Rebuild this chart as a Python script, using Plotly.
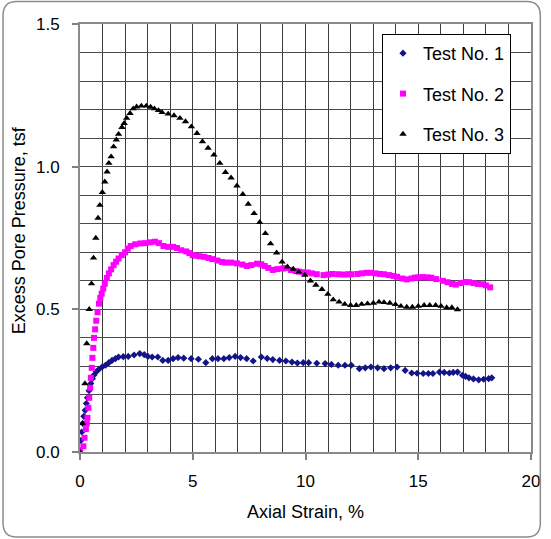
import plotly.graph_objects as go

# Test No. 1 readings (axial strain %, excess pore pressure tsf)
strain_1 = [0.0, 0.04, 0.08, 0.12, 0.17, 0.23, 0.28, 0.33, 0.40, 0.48, 0.55, 0.62, 0.72, 0.84,
            0.98, 1.13, 1.28, 1.42, 1.57, 1.71, 1.92, 2.14, 2.4, 2.65, 2.85, 3.01, 3.2, 3.45,
            3.67, 3.91, 4.13, 4.35, 4.6, 4.93, 5.25, 5.58, 5.87, 6.12, 6.38, 6.62, 6.88, 7.12,
            7.39, 7.68, 8.04, 8.3, 8.55, 8.85, 9.13, 9.4, 9.64, 9.9, 10.14, 10.5, 10.87, 11.15,
            11.45, 11.75, 12.03, 12.39, 12.65, 12.9, 13.2, 13.48, 13.78, 14.06, 14.42, 14.71,
            14.95, 15.22, 15.45, 15.65, 15.94, 16.15, 16.38, 16.55, 16.74, 16.96, 17.1, 17.25,
            17.45, 17.68, 17.9, 18.12, 18.26]
pressure_1 = [0.005, 0.04, 0.07, 0.10, 0.125, 0.146, 0.17, 0.19, 0.215, 0.24, 0.257, 0.27, 0.281,
              0.29, 0.298, 0.304, 0.313, 0.321, 0.327, 0.333, 0.334, 0.335, 0.34, 0.345, 0.341,
              0.335, 0.333, 0.333, 0.321, 0.321, 0.327, 0.331, 0.329, 0.327, 0.325, 0.313, 0.327,
              0.327, 0.327, 0.331, 0.335, 0.331, 0.327, 0.319, 0.333, 0.328, 0.324, 0.321, 0.319,
              0.315, 0.312, 0.313, 0.313, 0.311, 0.31, 0.307, 0.304, 0.304, 0.304, 0.292, 0.295,
              0.298, 0.295, 0.292, 0.295, 0.298, 0.286, 0.277, 0.276, 0.275, 0.275, 0.275, 0.28,
              0.279, 0.277, 0.279, 0.28, 0.269, 0.265, 0.26, 0.256, 0.253, 0.255, 0.257, 0.26]

# Test No. 2 readings
strain_2 = [0.0, 0.15, 0.2, 0.26, 0.30, 0.33, 0.37, 0.41, 0.45, 0.48, 0.52, 0.55, 0.59, 0.62,
            0.67, 0.72, 0.78, 0.84, 0.90, 0.96, 1.03, 1.10, 1.19, 1.28, 1.38, 1.49, 1.60, 1.71,
            1.85, 2.0, 2.12, 2.25, 2.45, 2.68, 2.9, 3.1, 3.33, 3.5, 3.70, 3.91, 4.13, 4.3, 4.49,
            4.71, 4.85, 5.0, 5.14, 5.3, 5.51, 5.7, 5.87, 6.1, 6.30, 6.45, 6.7, 6.96, 7.2, 7.4,
            7.6, 7.85, 8.04, 8.19, 8.35, 8.55, 8.75, 8.99, 9.13, 9.35, 9.57, 9.71, 9.9, 10.1,
            10.29, 10.5, 10.8, 11.0, 11.2, 11.45, 11.7, 11.9, 12.03, 12.3, 12.5, 12.7, 12.9,
            13.1, 13.3, 13.48, 13.7, 13.9, 14.06, 14.3, 14.49, 14.7, 14.85, 15.0, 15.2, 15.4,
            15.58, 15.8, 16.09, 16.3, 16.5, 16.67, 16.9, 17.1, 17.25, 17.45, 17.65, 17.83, 18.0,
            18.19]
pressure_2 = [0.005, 0.02, 0.05, 0.08, 0.10, 0.12, 0.155, 0.19, 0.225, 0.26, 0.295, 0.33, 0.365,
              0.40, 0.43, 0.46, 0.49, 0.52, 0.54, 0.555, 0.573, 0.59, 0.61, 0.626, 0.64, 0.655,
              0.667, 0.678, 0.69, 0.70, 0.713, 0.722, 0.728, 0.731, 0.732, 0.735, 0.737, 0.732,
              0.722, 0.719, 0.719, 0.715, 0.707, 0.703, 0.697, 0.69, 0.688, 0.686, 0.684, 0.68,
              0.676, 0.671, 0.666, 0.664, 0.664, 0.661, 0.657, 0.652, 0.655, 0.66, 0.658, 0.652,
              0.645, 0.638, 0.641, 0.643, 0.645, 0.638, 0.634, 0.632, 0.63, 0.629, 0.626, 0.623,
              0.62, 0.622, 0.624, 0.623, 0.622, 0.623, 0.623, 0.624, 0.626, 0.628, 0.628, 0.626,
              0.624, 0.623, 0.62, 0.617, 0.614, 0.608, 0.605, 0.608, 0.611, 0.612, 0.613, 0.612,
              0.611, 0.606, 0.600, 0.595, 0.589, 0.587, 0.592, 0.596, 0.595, 0.592, 0.589, 0.588,
              0.584, 0.577]

# Test No. 3 readings
strain_3 = [0.0, 0.12, 0.22, 0.30, 0.41, 0.51, 0.60, 0.70, 0.80, 0.88, 0.99, 1.10, 1.20, 1.28,
            1.38, 1.49, 1.61, 1.71, 1.86, 1.96, 2.07, 2.22, 2.36, 2.51, 2.72, 2.94, 3.13, 3.30,
            3.48, 3.64, 3.91, 4.17, 4.43, 4.68, 4.94, 5.19, 5.43, 5.68, 5.94, 6.20, 6.45, 6.70,
            6.96, 7.22, 7.46, 7.72, 7.97, 8.22, 8.45, 8.72, 8.96, 9.20, 9.46, 9.71, 9.97, 10.22,
            10.46, 10.73, 10.99, 11.23, 11.49, 11.74, 12.0, 12.25, 12.49, 12.75, 13.01, 13.26,
            13.48, 13.74, 13.99, 14.23, 14.49, 14.74, 15.0, 15.26, 15.51, 15.77, 16.01, 16.26,
            16.49, 16.74]
pressure_3 = [0.0, 0.10, 0.24, 0.38, 0.50, 0.59, 0.68, 0.75, 0.82, 0.865, 0.91, 0.947, 0.982,
              1.012, 1.035, 1.07, 1.094, 1.114, 1.138, 1.152, 1.17, 1.187, 1.203, 1.21, 1.213,
              1.213, 1.209, 1.203, 1.197, 1.19, 1.185, 1.179, 1.17, 1.158, 1.14, 1.117, 1.088,
              1.065, 1.041, 1.012, 0.98, 0.961, 0.933, 0.903, 0.869, 0.836, 0.805, 0.766, 0.73,
              0.698, 0.666, 0.649, 0.641, 0.631, 0.62, 0.60, 0.585, 0.57, 0.553, 0.534, 0.526,
              0.518, 0.514, 0.514, 0.518, 0.52, 0.522, 0.526, 0.524, 0.522, 0.517, 0.511, 0.508,
              0.508, 0.511, 0.514, 0.514, 0.514, 0.511, 0.506, 0.506, 0.499]

series_names = ["Test No. 1", "Test No. 2", "Test No. 3"]
x_ticks = [0, 5, 10, 15, 20]
y_ticks = [0.0, 0.5, 1.0, 1.5]

W, H = 551, 539
ML, MR, MT, MB = 80, 11, 24, 87
PW, PH = W - ML - MR, H - MT - MB

FONT = "Liberation Sans, Arial, sans-serif"

fig = go.Figure()
styles = [
    dict(symbol="diamond", color="#14148a", size=5.5),
    dict(symbol="square", color="#ff00ff", size=6),
    dict(symbol="triangle-up", color="#000000", size=6.5),
]
for name, xs, ys, st in zip(series_names, [strain_1, strain_2, strain_3],
                            [pressure_1, pressure_2, pressure_3], styles):
    fig.add_trace(go.Scatter(
        x=xs, y=ys, mode="markers", name=name, legendgroup=name,
        marker=dict(symbol=st["symbol"], color=st["color"], size=st["size"],
                    line=dict(width=0)),
    ))


def px_to_paper(px, py):
    return (px - ML) / PW, (H - MB - py) / PH


# rounded frame around the whole figure
x0, y0, x1, y1, r = 1.5, 1.5, 549.5, 537.0, 14
pts = [
    ("M", (x0 + r, y0)), ("L", (x1 - r, y0)), ("Q", (x1, y0), (x1, y0 + r)),
    ("L", (x1, y1 - r)), ("Q", (x1, y1), (x1 - r, y1)), ("L", (x0 + r, y1)),
    ("Q", (x0, y1), (x0, y1 - r)), ("L", (x0, y0 + r)), ("Q", (x0, y0), (x0 + r, y0)),
]
path = ""
for cmd, *coords in pts:
    path += cmd + " " + " ".join("%.5f,%.5f" % px_to_paper(*c) for c in coords) + " "
path += "Z"
fig.add_shape(type="path", path=path, xref="paper", yref="paper",
              line=dict(color="#8c8c8c", width=1.5), layer="above")

tx, ty = px_to_paper(310, 512)
fig.add_annotation(text="Axial Strain, %", x=tx, y=ty, xref="paper", yref="paper",
                   showarrow=False, xanchor="center", yanchor="middle",
                   font=dict(family=FONT, size=18, color="#000"))
tx, ty = px_to_paper(18, 230)
fig.add_annotation(text="Excess Pore Pressure, tsf", x=tx, y=ty, xref="paper", yref="paper",
                   showarrow=False, xanchor="center", yanchor="middle", textangle=-90,
                   font=dict(family=FONT, size=18, color="#000"))

lx, ly = px_to_paper(388, 34)
fig.update_layout(
    width=W, height=H, autosize=False,
    margin=dict(l=ML, r=MR, t=MT, b=MB),
    paper_bgcolor="white", plot_bgcolor="white",
    font=dict(family=FONT, size=17, color="#000"),
    showlegend=True,
    legend=dict(x=lx, y=ly, xanchor="left", yanchor="top",
                bgcolor="white", bordercolor="#000", borderwidth=1,
                font=dict(family=FONT, size=18, color="#000"),
                tracegroupgap=14, itemsizing="trace"),
    xaxis=dict(range=[0, 20], tickvals=x_ticks, ticktext=[str(v) for v in x_ticks],
               ticks="outside", ticklen=6, tickcolor="#808080", tickwidth=1.5,
               showline=True, mirror=True, linecolor="#8a8a8a", linewidth=2,
               showgrid=True, gridcolor="#3c3c3c", gridwidth=1, zeroline=False,
               minor=dict(dtick=1, tick0=0, showgrid=True, gridcolor="#3c3c3c", gridwidth=1),
               ticklabelstandoff=7, fixedrange=True),
    yaxis=dict(range=[0, 1.5], tickvals=y_ticks, ticktext=["%.1f" % v for v in y_ticks],
               ticks="outside", ticklen=6, tickcolor="#808080", tickwidth=1.5,
               showline=True, mirror=True, linecolor="#8a8a8a", linewidth=2,
               showgrid=True, gridcolor="#4a4a4a", gridwidth=1, zeroline=False,
               minor=dict(dtick=0.1, tick0=0, showgrid=True, gridcolor="#4a4a4a", gridwidth=1),
               ticklabelstandoff=9, fixedrange=True),
)

fig.write_html("out.html", config={"responsive": False, "displayModeBar": False},
               default_width="551px", default_height="539px")

# keep the page exactly the size of the figure (no body margin, no scrollbars)
with open("out.html", encoding="utf-8") as fh:
    page = fh.read()
page = page.replace("<head>", "<head><style>html,body{margin:0;padding:0;overflow:hidden;}</style>", 1)
with open("out.html", "w", encoding="utf-8") as fh:
    fh.write(page)
